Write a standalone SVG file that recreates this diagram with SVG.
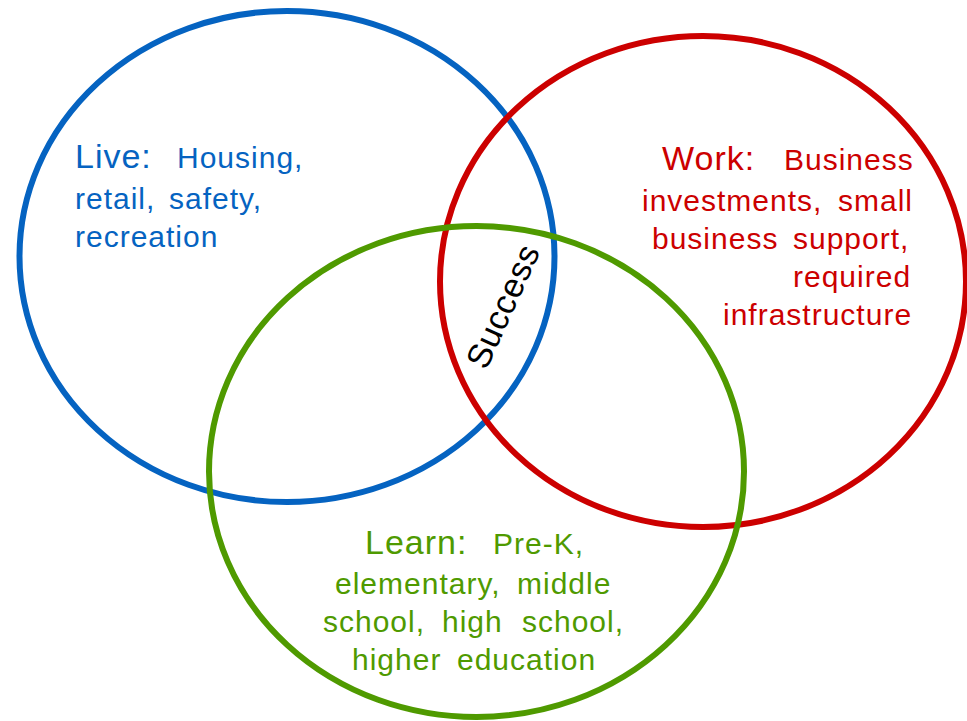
<svg xmlns="http://www.w3.org/2000/svg" width="967" height="721" viewBox="0 0 967 721">
<style>
  .ring { fill: none; stroke-width: 6; }
  .t { font-family: "Liberation Sans", Arial, Helvetica, sans-serif; font-size: 30px; letter-spacing: 1px; }
  .h { font-size: 34px; }
  .live { fill: #0563C1; }
  .work { fill: #CC0000; }
  .learn { fill: #4F9A00; }
</style>
<rect width="967" height="721" fill="#ffffff"/>
<g id="live">
  <ellipse class="ring" cx="287" cy="256.5" rx="267.5" ry="245.5" stroke="#0563C1"/>
  <text class="t live"><tspan class="h" x="75" y="168">Live:</tspan><tspan x="177" y="168">Housing,</tspan></text>
  <text class="t live"><tspan x="75" y="209">retail,</tspan><tspan x="169" y="209">safety,</tspan></text>
  <text class="t live"><tspan x="75" y="247">recreation</tspan></text>
</g>
<g id="work">
  <ellipse class="ring" cx="703" cy="281.5" rx="263" ry="245.5" stroke="#CC0000"/>
  <text class="t work"><tspan class="h" x="662" y="170">Work:</tspan><tspan x="784" y="170">Business</tspan></text>
  <text class="t work"><tspan x="642" y="211">investments,</tspan><tspan x="838" y="211">small</tspan></text>
  <text class="t work"><tspan x="652" y="249">business</tspan><tspan x="793" y="249">support,</tspan></text>
  <text class="t work"><tspan x="793" y="287">required</tspan></text>
  <text class="t work"><tspan x="723" y="325">infrastructure</tspan></text>
</g>
<g id="learn">
  <ellipse class="ring" cx="476.5" cy="471.5" rx="267.5" ry="245.5" stroke="#4F9A00"/>
  <text class="t learn"><tspan class="h" x="365" y="554">Learn:</tspan><tspan x="493" y="554">Pre-K,</tspan></text>
  <text class="t learn"><tspan x="335" y="594">elementary,</tspan><tspan x="517" y="594">middle</tspan></text>
  <text class="t learn"><tspan x="323" y="632">school,</tspan><tspan x="442" y="632">high</tspan><tspan x="522" y="632">school,</tspan></text>
  <text class="t learn"><tspan x="352" y="670">higher</tspan><tspan x="457" y="670">education</tspan></text>
</g>
<g id="success">
  <text class="t" transform="translate(503.5 306.5) rotate(-65.5)" x="0" y="11" text-anchor="middle" style="font-size:34px;letter-spacing:0.5px" fill="#000000">Success</text>
</g>
<g id="connectors"></g>
</svg>
